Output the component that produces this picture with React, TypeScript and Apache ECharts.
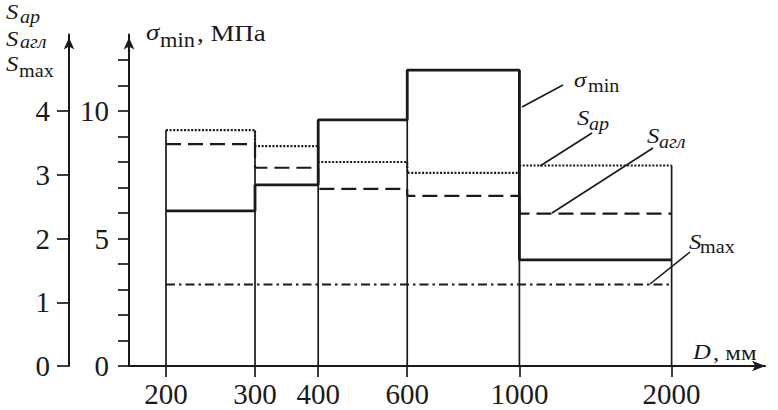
import React, { useEffect, useRef } from 'react';
import * as echarts from 'echarts';

// ---- data ----
const diameters = [200, 300, 400, 600, 1000, 2000];
const sigmaMin = [6.08, 7.1, 9.65, 11.6, 4.16];
const sAp = [3.7, 3.45, 3.2, 3.03, 3.145];
const sAgl = [3.48, 3.11, 2.78, 2.67, 2.39];
const sMax = [1.28, 1.28, 1.28, 1.28, 1.28];
const sigmaTicks = [0, 1, 2, 3, 4, 5, 6, 7, 8, 9, 10, 11, 12];
const sigmaLabels = [0, 5, 10];
const sTicks = [0, 1, 2, 3, 4];

const SIGMA_TOP = 13;
const S_TOP = 5.2;
const RATIO = SIGMA_TOP / S_TOP;

const INK = '#1a1a1a';
const FONT = '"Liberation Serif", "Times New Roman", serif';
const STRETCH = 1.12;

const stepPoints = (vals: number[]) =>
  diameters.map((d, i) => [d, vals[Math.min(i, vals.length - 1)]]);

const boundaryTops = diameters.map((d, i) => {
  const idx = [i - 1, i].filter((j) => j >= 0 && j < sigmaMin.length);
  let top = 0;
  idx.forEach((j) => {
    top = Math.max(top, sigmaMin[j], sAp[j] * RATIO, sAgl[j] * RATIO, sMax[j] * RATIO);
  });
  return [d, top];
});

const txt = (text: string, x: number, y: number, size: number, italic = false) => ({
  type: 'text',
  x,
  y,
  scaleX: STRETCH,
  silent: true,
  style: {
    text,
    fontSize: size,
    fontFamily: FONT,
    fontStyle: italic ? 'italic' : 'normal',
    fill: INK,
    align: 'left',
    verticalAlign: 'middle',
  },
});

const leader = (x1: number, y1: number, x2: number, y2: number) => ({
  type: 'line',
  silent: true,
  shape: { x1, y1, x2, y2 },
  style: { stroke: INK, lineWidth: 1.6 },
});

export default function App() {
  const ref = useRef<HTMLDivElement>(null);

  useEffect(() => {
    if (!ref.current) return;
    const chart = echarts.init(ref.current, undefined, { renderer: 'svg' });

    const axisLabelStyle = { fontSize: 29, fontFamily: FONT, color: INK };

    chart.setOption({
      animation: false,
      backgroundColor: '#ffffff',
      grid: { left: 129, right: 13, top: 34.5, bottom: 44, containLabel: false },
      xAxis: {
        type: 'log',
        logBase: 10,
        min: 169,
        max: 3060,
        axisLine: {
          show: true,
          onZero: false,
          symbol: ['none', 'arrow'],
          symbolSize: [8, 13],
          lineStyle: { color: INK, width: 2 },
        },
        axisTick: {
          show: true,
          customValues: diameters,
          length: 11,
          lineStyle: { color: INK, width: 1.7 },
        },
        minorTick: { show: false },
        axisLabel: {
          ...axisLabelStyle,
          customValues: diameters,
          margin: 13,
          formatter: (v: number) => String(Math.round(v)),
        },
        splitLine: { show: false },
      },
      yAxis: [
        {
          type: 'value',
          min: 0,
          max: SIGMA_TOP,
          position: 'left',
          offset: 0,
          axisLine: {
            show: true,
            onZero: false,
            symbol: ['none', 'arrow'],
            symbolSize: [8, 12],
            symbolOffset: [0, -3],
            lineStyle: { color: INK, width: 2 },
          },
          axisTick: {
            show: true,
            customValues: sigmaTicks,
            length: 11,
            lineStyle: { color: INK, width: 1.7 },
          },
          axisLabel: { ...axisLabelStyle, customValues: sigmaLabels, margin: 20 },
          splitLine: { show: false },
        },
        {
          type: 'value',
          min: 0,
          max: S_TOP,
          position: 'left',
          offset: 60,
          axisLine: {
            show: true,
            onZero: false,
            symbol: ['none', 'arrow'],
            symbolSize: [8, 12],
            symbolOffset: [0, -3],
            lineStyle: { color: INK, width: 2 },
          },
          axisTick: {
            show: true,
            customValues: sTicks,
            length: 12,
            lineStyle: { color: INK, width: 1.7 },
          },
          axisLabel: { ...axisLabelStyle, customValues: sTicks, margin: 19 },
          splitLine: { show: false },
        },
      ],
      series: [
        {
          type: 'custom',
          name: 'boundaries',
          xAxisIndex: 0,
          yAxisIndex: 0,
          data: boundaryTops,
          renderItem: (params: any, api: any) => {
            const p0 = api.coord([api.value(0), 0]);
            const p1 = api.coord([api.value(0), api.value(1)]);
            return {
              type: 'line',
              shape: { x1: p0[0], y1: p0[1], x2: p1[0], y2: p1[1] },
              style: { stroke: INK, lineWidth: 1.7 },
            };
          },
          z: 1,
        },
        {
          type: 'line',
          name: 'σmin',
          yAxisIndex: 0,
          step: 'end',
          symbol: 'none',
          data: stepPoints(sigmaMin),
          lineStyle: { color: INK, width: 2.8, type: 'solid' },
          z: 3,
        },
        {
          type: 'line',
          name: 'Sар',
          yAxisIndex: 1,
          step: 'end',
          symbol: 'none',
          data: stepPoints(sAp),
          lineStyle: { color: INK, width: 2.2, type: [2, 1.6] },
          z: 2,
        },
        {
          type: 'line',
          name: 'Sагл',
          yAxisIndex: 1,
          step: 'end',
          symbol: 'none',
          data: stepPoints(sAgl),
          lineStyle: { color: INK, width: 2.2, type: [15, 7] },
          z: 2,
        },
        {
          type: 'line',
          name: 'Smax',
          yAxisIndex: 1,
          step: 'end',
          symbol: 'none',
          data: stepPoints(sMax),
          lineStyle: { color: INK, width: 2, type: [9, 4, 2.5, 4] },
          z: 2,
        },
      ],
      graphic: [
        // left axis title (S)
        txt('S', 6, 11, 22, true),
        txt('ар', 20, 17, 18, true),
        txt('S', 6, 38.5, 22, true),
        txt('агл', 20, 41.5, 18, true),
        txt('S', 6, 63.5, 22, true),
        txt('max', 19, 71, 18),
        // sigma axis title
        txt('σ', 146, 31.5, 24, true),
        txt('min', 160, 40, 20),
        txt(', МПа', 197, 32.5, 24),
        // x axis title
        txt('D', 693, 351, 22, true),
        txt(', мм', 713, 352, 22),
        // annotations
        leader(522, 107, 563, 85),
        txt('σ', 574, 79.5, 22, true),
        txt('min', 588, 86, 18),
        leader(540, 166, 592, 133),
        txt('S', 577, 117.5, 22, true),
        txt('ар', 589, 124, 18, true),
        leader(552, 213, 653, 148),
        txt('S', 647, 135.5, 22, true),
        txt('агл', 659, 142, 18, true),
        leader(650, 284, 690, 252),
        txt('S', 689, 241.5, 22, true),
        txt('max', 700, 247, 18),
      ],
    });

    return () => chart.dispose();
  }, []);

  return <div ref={ref} style={{ width: 778, height: 410, position: 'absolute', left: 0, top: 0, background: '#fff' }} />;
}
